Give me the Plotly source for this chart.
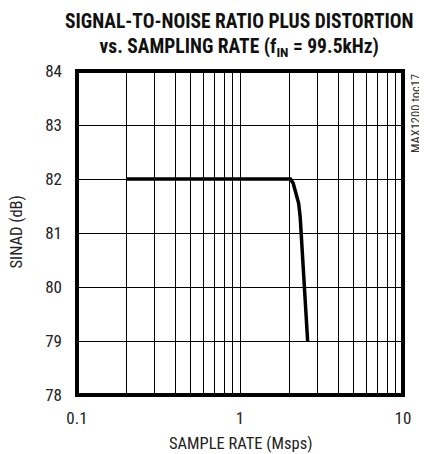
import plotly.graph_objects as go

# Data
sample_rate = [0.2, 1.0, 2.04, 2.12, 2.18, 2.24, 2.29, 2.34, 2.46, 2.6]
sinad = [82.0, 82.0, 82.0, 81.92, 81.8, 81.68, 81.55, 81.3, 80.07, 79.0]

x_ticks = [0.1, 1, 10]
x_labels = ["0.1", "1", "10"]
x_minor_grid = [0.2, 0.3, 0.4, 0.5, 0.6, 0.7, 0.8, 0.9,
                2, 3, 4, 5, 6, 7, 8, 9]
y_ticks = [78, 79, 80, 81, 82, 83, 84]

FONT = "Roboto Condensed, Liberation Sans, Arial, sans-serif"

fig = go.Figure()
fig.add_trace(go.Scatter(x=sample_rate, y=sinad, mode="lines",
                         line=dict(color="black", width=3.5),
                         showlegend=False, hoverinfo="skip"))

fig.update_layout(
    width=419, height=446,
    margin=dict(l=69, r=24, t=63, b=59),
    paper_bgcolor="white", plot_bgcolor="white",
    font=dict(family=FONT, size=17, color="#222"),
    xaxis=dict(
        type="log", range=[-1, 1],
        tickmode="array", tickvals=x_ticks, ticktext=x_labels,
        showgrid=True, gridcolor="black", gridwidth=1,
        minor=dict(tickmode="array", tickvals=x_minor_grid, showgrid=True,
                   gridcolor="black", gridwidth=1, ticks=""),
        showline=False, ticks="", ticklabelstandoff=11,
        zeroline=False, fixedrange=True,
    ),
    yaxis=dict(
        range=[78, 84], tickmode="array", tickvals=y_ticks,
        showgrid=True, gridcolor="black", gridwidth=1,
        showline=False, ticks="", ticklabelstandoff=14,
        zeroline=False, fixedrange=True,
    ),
    shapes=[dict(type="rect", xref="paper", yref="paper", x0=0, x1=1, y0=0, y1=1,
                 line=dict(color="black", width=4), layer="above")],
)

# Title
fig.add_annotation(
    text="<b>SIGNAL-TO-NOISE RATIO PLUS DISTORTION<br>vs. SAMPLING RATE (f<sub>IN</sub> = 99.5kHz)</b>",
    x=0.497, xref="paper", y=1, yref="paper", xanchor="center", yanchor="top",
    yshift=63, showarrow=False, align="center",
    font=dict(family=FONT, size=19.5, color="#111"))

# Axis titles
fig.add_annotation(text="SAMPLE RATE (Msps)", x=0.5, xref="paper", y=0, yref="paper",
                   xanchor="center", yanchor="top", yshift=-38, showarrow=False,
                   borderpad=0, font=dict(family=FONT, size=16.5, color="#222"))
fig.add_annotation(text="SINAD (dB)", x=0, xref="paper", y=0.503, yref="paper",
                   xanchor="right", yanchor="middle", xshift=-50, textangle=-90,
                   showarrow=False, borderpad=0,
                   font=dict(family=FONT, size=16.5, color="#222"))

# Side label
fig.add_annotation(text="MAX1200 toc17", x=1.0, xref="paper", y=1.0, yref="paper",
                   xanchor="left", yanchor="top", xshift=3, yshift=-1, textangle=-90,
                   showarrow=False, font=dict(family=FONT, size=12.5, color="#333"))

fig.write_html("out.html")
